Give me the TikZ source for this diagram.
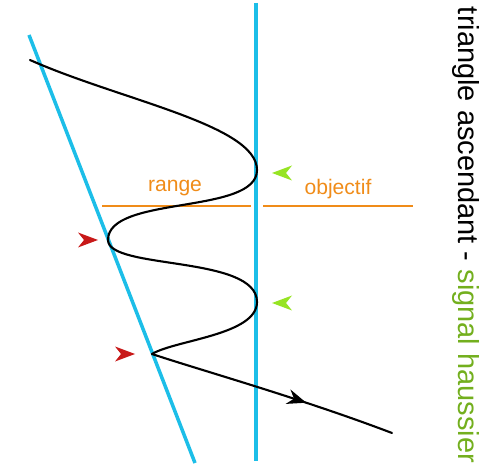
\documentclass[tikz,border=0pt]{standalone}
\usepackage{fontspec}
\setmainfont{Liberation Sans}
\usetikzlibrary{arrows.meta, decorations.markings}
\definecolor{trendblue}{RGB}{28,190,232}
\definecolor{rangeorange}{RGB}{240,140,25}
\definecolor{signalgreen}{RGB}{150,228,35}
\definecolor{textgreen}{RGB}{115,175,30}
\definecolor{bouncered}{RGB}{200,25,25}

\begin{document}
\begin{tikzpicture}[
  x=0.02cm, y=-0.02cm,
  >=Stealth,
  trend/.style={trendblue, line width=2pt},
  level/.style={rangeorange, line width=1.3pt},
  price/.style={black, line width=1.2pt, line cap=round},
  lbl/.style={rangeorange, font=\fontsize{12}{14}\selectfont, inner sep=0pt},
  marker/.pic={\fill (0,0) -- (-20,-7.5) -- (-14,0) -- (-20,7.5) -- cycle;},
  midarrow/.style={postaction={decorate}, decoration={markings, mark=at position #1 with {\arrow{Stealth[length=0.38cm, width=0.3cm]}}}}
]
\useasboundingbox (0,0) rectangle (487,476);

\coordinate (t0) at (29,35);
\coordinate (t1) at (195,463);
\coordinate (r0) at (256,3);
\coordinate (r1) at (256,461);
\coordinate (g0) at (102,206);
\coordinate (g1) at (251,206);
\coordinate (o0) at (263,206);
\coordinate (o1) at (413,206);

\coordinate (s0) at (30,60);
\coordinate (p1) at (257,170);
\coordinate (v1) at (108,240);
\coordinate (p2) at (257,302);
\coordinate (v2) at (152,354);
\coordinate (s1) at (392,433);

\draw[trend] (t0) -- (t1);
\draw[trend] (r0) -- (r1);
\draw[level] (g0) -- (g1);
\draw[level] (o0) -- (o1);

\node[lbl] (range) at (175,188) {range};
\node[lbl] (obj) at (338,189) {objectif};

\draw[price] (s0) .. controls (120,100) and (257,125) .. (p1)
  .. controls (257,215) and (108,195) .. (v1)
  .. controls (108,270) and (257,255) .. (p2)
  .. controls (257,335) and (175,340) .. (v2);
\draw[price, midarrow=0.64] (v2) .. controls (200,370) and (300,398) .. (s1);

\pic[signalgreen, rotate=180] at (272,173) {marker};
\pic[signalgreen, rotate=180] at (272,303) {marker};
\pic[bouncered] at (98,240) {marker};
\pic[bouncered] at (135,354) {marker};

\node[rotate=-90, font=\fontsize{16.5}{18}\selectfont, inner sep=0pt] (title) at (466,235) {triangle ascendant - \textcolor{textgreen}{signal haussier}};
\end{tikzpicture}
\end{document}
